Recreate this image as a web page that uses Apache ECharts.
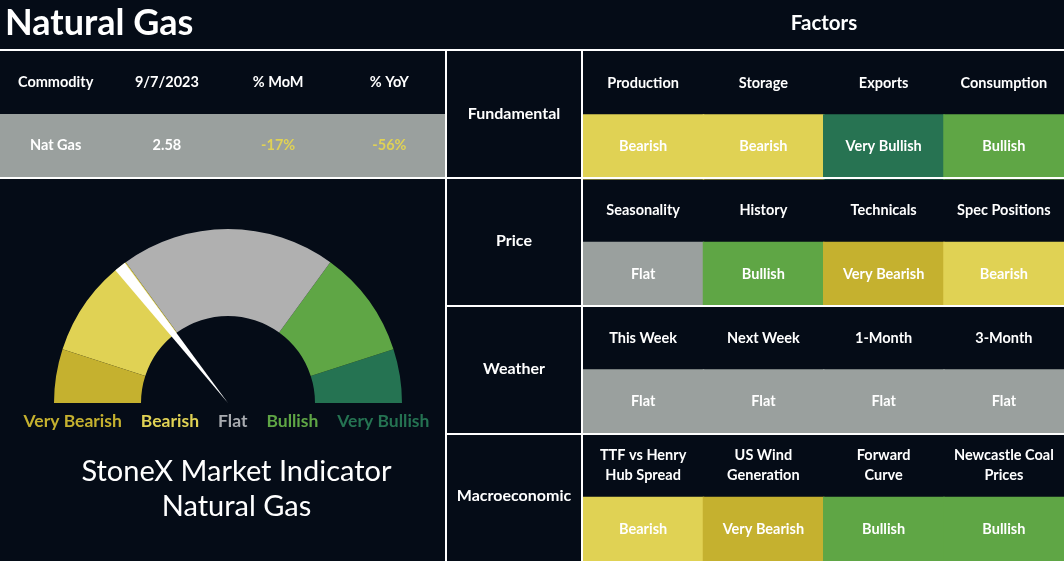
<!DOCTYPE html>
<html>
<head>
<meta charset="utf-8">
<script src="https://cdn.jsdelivr.net/npm/echarts@6/dist/echarts.min.js"></script>
<style>
html,body{margin:0;padding:0;background:#050c17;}
#c{width:1064px;height:561px;}
</style>
</head>
<body>
<div id="c"></div>
<script>
// ---------- data ----------
const pageTitle = 'Natural Gas';
const factorsTitle = 'Factors';
const summaryHeaders = ['Commodity', '9/7/2023', '% MoM', '% YoY'];
const summaryValues = ['Nat Gas', '2.58', '-17%', '-56%'];
const gaugeLevels = ['Very Bearish', 'Bearish', 'Flat', 'Bullish', 'Very Bullish'];
const gaugeLevelEnds = [10, 30, 70, 90, 100];
const gaugeValue = 28.7;
const indicatorTitle = ['StoneX Market Indicator', 'Natural Gas'];
const groups = ['Fundamental', 'Price', 'Weather', 'Macroeconomic'];
const factors = [
  ['Production', 'Storage', 'Exports', 'Consumption'],
  ['Seasonality', 'History', 'Technicals', 'Spec Positions'],
  ['This Week', 'Next Week', '1-Month', '3-Month'],
  ['TTF vs Henry\nHub Spread', 'US Wind\nGeneration', 'Forward\nCurve', 'Newcastle Coal\nPrices']
];
const ratings = [
  ['Bearish', 'Bearish', 'Very Bullish', 'Bullish'],
  ['Flat', 'Bullish', 'Very Bearish', 'Bearish'],
  ['Flat', 'Flat', 'Flat', 'Flat'],
  ['Bearish', 'Very Bearish', 'Bullish', 'Bullish']
];

// ---------- styles ----------
const FONT = 'Lato, "Noto Sans", sans-serif';
const BG = '#050c17';
const WHITE = '#ffffff';
const cellColors = {
  'Very Bearish': '#c5b12f', 'Bearish': '#e0d254', 'Flat': '#9aa09e',
  'Bullish': '#5fa645', 'Very Bullish': '#277352'
};
const gaugeColors = ['#c5b12f', '#e0d254', '#b0b0b0', '#5fa645', '#257352'];
const labelColors = ['#c5b12f', '#e0d254', '#a8abb0', '#5fa645', '#257352'];

// ---------- derived cells ----------
const summaryCells = [];
summaryHeaders.forEach((h, j) => summaryCells.push({ value: [j, 0], text: h, kind: 'head' }));
summaryValues.forEach((v, j) => summaryCells.push({ value: [j, 1], text: v, kind: 'row' }));

const groupCells = groups.map((g, i) => ({ value: [0, i], text: g }));

const factorCells = [];
groups.forEach((g, gi) => factors[gi].forEach((f, j) => {
  factorCells.push({ value: [j, gi * 2], text: f, kind: 'head' });
  factorCells.push({ value: [j, gi * 2 + 1], text: ratings[gi][j], kind: 'rating' });
}));

function cellBox(api) {
  const p = api.coord([api.value(0), api.value(1)]);
  const s = api.size([1, 1]);
  return { cx: p[0], cy: p[1], x: p[0] - s[0] / 2, y: p[1] - s[1] / 2, w: s[0], h: s[1] };
}
function textEl(t, x, y, fill, size, weight) {
  return {
    type: 'text', x: x, y: y, z2: 10,
    style: { text: t, fill: fill, align: 'center', verticalAlign: 'middle',
      fontFamily: FONT, fontSize: size, fontWeight: weight || 'bold', lineHeight: 20 }
  };
}

const chart = echarts.init(document.getElementById('c'), null, { renderer: 'canvas' });

const option = {
  backgroundColor: BG,
  animation: false,
  grid: [
    { left: 0, top: 51, width: 445, height: 126 },
    { left: 447, top: 51, width: 134, height: 510 },
    { left: 583, top: 51, width: 481, height: 510 }
  ],
  xAxis: [
    { gridIndex: 0, type: 'category', data: summaryHeaders.map((_, i) => i), show: false },
    { gridIndex: 1, type: 'category', data: [0], show: false },
    { gridIndex: 2, type: 'category', data: [0, 1, 2, 3], show: false }
  ],
  yAxis: [
    { gridIndex: 0, type: 'category', data: [0, 1], inverse: true, show: false },
    { gridIndex: 1, type: 'category', data: groups.map((_, i) => i), inverse: true, show: false },
    { gridIndex: 2, type: 'category', data: [0, 1, 2, 3, 4, 5, 6, 7], inverse: true, show: false }
  ],
  series: [
    {
      type: 'custom', xAxisIndex: 0, yAxisIndex: 0,
      data: summaryCells.map(c => c.value),
      renderItem: function (params, api) {
        const c = summaryCells[params.dataIndex];
        const b = cellBox(api);
        const children = [];
        if (c.kind === 'row') {
          children.push({ type: 'rect', shape: { x: b.x - 0.5, y: b.y, width: b.w + 1.5, height: b.h },
            style: { fill: cellColors['Flat'] } });
        }
        const fill = (c.kind === 'row' && c.text.charAt(0) === '-') ? cellColors['Bearish'] : WHITE;
        children.push(textEl(c.text, b.cx, b.cy, fill, 14.5, 'bold'));
        return { type: 'group', children: children };
      }
    },
    {
      type: 'custom', xAxisIndex: 1, yAxisIndex: 1,
      data: groupCells.map(c => c.value),
      renderItem: function (params, api) {
        const c = groupCells[params.dataIndex];
        const b = cellBox(api);
        return textEl(c.text, b.cx, b.cy - 1, WHITE, 16, 'bold');
      }
    },
    {
      type: 'custom', xAxisIndex: 2, yAxisIndex: 2,
      data: factorCells.map(c => c.value),
      renderItem: function (params, api) {
        const c = factorCells[params.dataIndex];
        const b = cellBox(api);
        const children = [];
        if (c.kind === 'rating') {
          children.push({ type: 'rect', shape: { x: b.x - 0.5, y: b.y - 0.5, width: b.w + 1.5, height: b.h + 1.5 },
            style: { fill: cellColors[c.text] } });
        }
        children.push(textEl(c.text, b.cx, b.cy, WHITE, 14.5, 'bold'));
        return { type: 'group', children: children };
      }
    },
    {
      type: 'gauge',
      center: [228, 403],
      radius: 174,
      min: 0, max: 100,
      startAngle: 180, endAngle: 0,
      axisLine: {
        lineStyle: {
          width: 87,
          color: gaugeLevelEnds.map((e, i) => [e / 100, gaugeColors[i]])
        }
      },
      axisTick: { show: false },
      splitLine: { show: false },
      axisLabel: { show: false },
      progress: { show: false },
      anchor: { show: false },
      title: { show: false },
      detail: { show: false },
      pointer: {
        show: true,
        icon: 'path://M0 0 L10 0 L5 100 Z',
        length: '100%',
        width: 12,
        offsetCenter: [0, 0],
        itemStyle: { color: WHITE }
      },
      data: [{ value: gaugeValue, name: 'Natural Gas' }]
    }
  ],
  graphic: [
    { type: 'text', x: 5, y: 23, z: 100,
      style: { text: pageTitle, fill: WHITE, fontFamily: FONT, fontSize: 36, fontWeight: 'bold',
        align: 'left', verticalAlign: 'middle' } },
    { type: 'text', x: 824, y: 23, z: 100,
      style: { text: factorsTitle, fill: WHITE, fontFamily: FONT, fontSize: 20.5, fontWeight: 'bold',
        align: 'center', verticalAlign: 'middle' } },
    { type: 'text', x: 226.5, y: 421, z: 100,
      style: {
        text: gaugeLevels.map((l, i) => '{l' + i + '|' + l + '}').join(''),
        align: 'center', verticalAlign: 'middle',
        rich: Object.fromEntries(gaugeLevels.map((l, i) => ['l' + i, {
          fill: labelColors[i], fontFamily: FONT, fontSize: 17.5, fontWeight: 'bold', padding: [0, 9.5]
        }]))
      } },
    { type: 'text', x: 236.5, y: 489.5, z: 100,
      style: { text: indicatorTitle.join('\n'), fill: WHITE, fontFamily: FONT, fontSize: 29,
        fontWeight: 'normal', lineHeight: 35, align: 'center', verticalAlign: 'middle' } },
    // table borders
    { type: 'rect', z: 200, shape: { x: 0, y: 49, width: 1064, height: 2 }, style: { fill: WHITE } },
    { type: 'rect', z: 200, shape: { x: 445, y: 49, width: 2, height: 512 }, style: { fill: WHITE } },
    { type: 'rect', z: 200, shape: { x: 581, y: 49, width: 2, height: 512 }, style: { fill: WHITE } },
    { type: 'rect', z: 200, shape: { x: 0, y: 177, width: 1064, height: 2 }, style: { fill: WHITE } },
    { type: 'rect', z: 200, shape: { x: 445, y: 305, width: 619, height: 2 }, style: { fill: WHITE } },
    { type: 'rect', z: 200, shape: { x: 445, y: 433, width: 619, height: 2 }, style: { fill: WHITE } }
  ]
};
chart.setOption(option);
</script>
</body>
</html>
